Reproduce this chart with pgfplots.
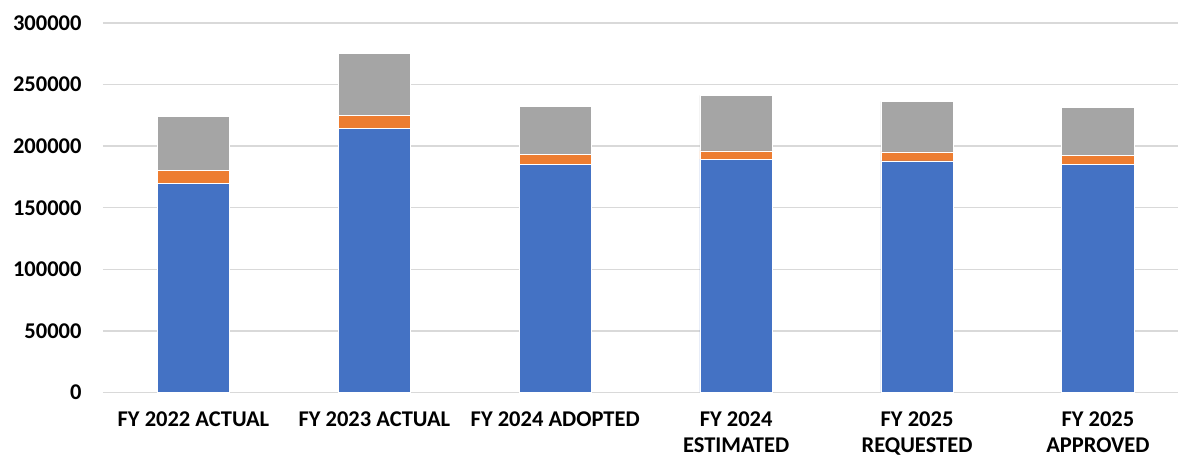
\documentclass[border=0pt]{standalone}
\usepackage{pgfplots}
\pgfplotsset{compat=1.18}
\usepackage{fontspec}
\setmainfont{Carlito}
\definecolor{cblue}{HTML}{4472C4}
\definecolor{corange}{HTML}{ED7D31}
\definecolor{cgray}{HTML}{A5A5A5}
\definecolor{cgrid}{HTML}{D9D9D9}
\begin{document}
\begin{tikzpicture}[x=1pt,y=1pt]
\path[use as bounding box] (0,0) rectangle (1178,460);
\begin{axis}[
  at={(103pt,67.5pt)}, anchor=south west,
  scale only axis, width=1075pt, height=369.5pt,
  ybar stacked, bar width=0.4,
  xmin=-0.5, xmax=5.443, ymin=0, ymax=300000,
  scaled y ticks=false,
  xtick=data,
  xticklabels={FY 2022 ACTUAL, FY 2023 ACTUAL, FY 2024 ADOPTED, {FY 2024\\ESTIMATED}, {FY 2025\\REQUESTED}, {FY 2025\\APPROVED}},
  ytick={0,50000,100000,150000,200000,250000,300000},
  yticklabels={0,50000,100000,150000,200000,250000,300000},
  major tick length=0pt,
  axis line style={draw=none},
  ymajorgrids, grid style={cgrid, line width=1.5pt},
  xticklabel style={font=\fontsize{22.5}{26.5}\selectfont\bfseries, align=center, anchor=north, yshift=-18pt, inner sep=1pt},
  yticklabel style={font=\fontsize{22.5}{26}\selectfont\bfseries, anchor=east, xshift=-18pt},
  clip=false,
]
\addplot[fill=cblue, draw=white, line width=0.6pt] coordinates {(0,170000) (1,214100) (2,185200) (3,189500) (4,188100) (5,184900)};
\addplot[fill=corange, draw=white, line width=0.6pt] coordinates {(0,10000) (1,10900) (2,8100) (3,6700) (4,7300) (5,7300)};
\addplot[fill=cgray, draw=white, line width=0.6pt] coordinates {(0,44400) (1,50500) (2,39000) (3,45000) (4,40900) (5,39000)};
\end{axis}
\end{tikzpicture}
\end{document}
